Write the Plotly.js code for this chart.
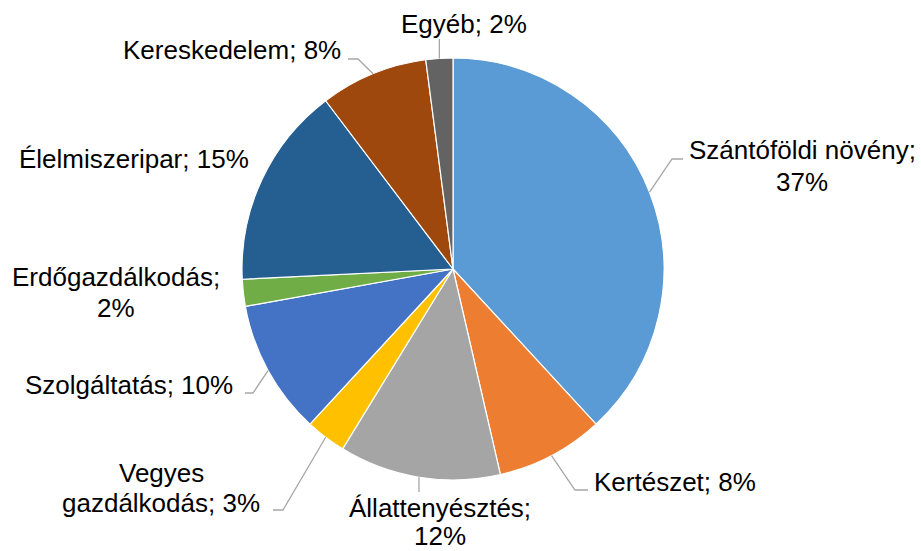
<!DOCTYPE html>
<html>
<head>
<meta charset="utf-8">
<script src="https://cdn.plot.ly/plotly-3.0.1.min.js"></script>
<style>html,body{margin:0;padding:0;background:#fff;}#chart{width:921px;height:551px;}</style>
</head>
<body>
<div id="chart"></div>
<script>
// ---- data ----
const categories = ["Szántóföldi növény", "Kertészet", "Állattenyésztés", "Vegyes gazdálkodás", "Szolgáltatás", "Erdőgazdálkodás", "Élelmiszeripar", "Kereskedelem", "Egyéb"];
const values = [37, 8, 12, 3, 10, 2, 15, 8, 2];
const colors = ["#5B9BD5", "#ED7D31", "#A5A5A5", "#FFC000", "#4472C4", "#70AD47", "#255E91", "#9E480E", "#636363"];

// ---- layout (pixels) ----
const W = 921, H = 551;
const cx = 453, cy = 269, R = 211;
// label placement: center x, middle y of each line, wrap mode
const labelPos = [
  {x: 802, ys: [150, 182], wrap: "value"},
  {x: 675, ys: [482], wrap: "none"},
  {x: 440, ys: [508, 536], wrap: "value"},
  {x: 161, ys: [473, 503], wrap: "first"},
  {x: 129, ys: [385], wrap: "none"},
  {x: 116, ys: [277, 308], wrap: "value"},
  {x: 134, ys: [159], wrap: "none"},
  {x: 232, ys: [50], wrap: "none"},
  {x: 464, ys: [24], wrap: "none"}
];
// leader line elbows (pixels), null = no leader
const leaders = [
  [[672,159],[683,159]],
  [[575,490],[588,490]],
  [["px",492]],
  [[283,510],[273,510]],
  [[253,393],[245,393]],
  null,
  null,
  [[358,59],[348,59]],
  [["px",39]]
];

const px2x = v => v / W;
const py2y = v => 1 - v / H;

const total = values.reduce((a, b) => a + b, 0);
let cum = 0;
const annotations = [];
const shapes = [];
values.forEach((v, i) => {
  const mid = (cum + v / 2) / total * 2 * Math.PI;
  cum += v;
  const p = [cx + R * Math.sin(mid), cy - R * Math.cos(mid)];
  const lp = labelPos[i];
  let lines;
  const val = v + "%";
  if (lp.wrap === "value") lines = [categories[i] + ";", val];
  else if (lp.wrap === "first") {
    const k = categories[i].indexOf(" ");
    lines = [categories[i].slice(0, k), categories[i].slice(k + 1) + "; " + val];
  } else lines = [categories[i] + "; " + val];
  lines.forEach((t, j) => {
    annotations.push({
      xref: "paper", yref: "paper", x: px2x(lp.x), y: py2y(lp.ys[j]),
      xanchor: "center", yanchor: "middle", align: "center",
      text: t, showarrow: false,
      font: {family: "Liberation Sans, Arial, sans-serif", size: 26, color: "#000000"}
    });
  });
  if (leaders[i]) {
    let path = "M" + px2x(p[0]) + "," + py2y(p[1]);
    leaders[i].forEach(pt => {
      const xx = pt[0] === "px" ? p[0] : pt[0];
      path += " L" + px2x(xx) + "," + py2y(pt[1]);
    });
    shapes.push({type: "path", xref: "paper", yref: "paper", path: path,
      line: {color: "#A6A6A6", width: 1.3}});
  }
});

const trace = {
  type: "pie",
  labels: categories,
  values: values,
  sort: false,
  direction: "clockwise",
  rotation: 0,
  textinfo: "none",
  hoverinfo: "skip",
  marker: {colors: colors, line: {color: "#FFFFFF", width: 1.2}},
  domain: {x: [(cx - R) / W, (cx + R) / W], y: [1 - (cy + R) / H, 1 - (cy - R) / H]}
};

const layout = {
  width: W, height: H,
  margin: {l: 0, r: 0, t: 0, b: 0},
  showlegend: false,
  paper_bgcolor: "#FFFFFF",
  annotations: annotations,
  shapes: shapes
};

Plotly.newPlot("chart", [trace], layout, {staticPlot: true, displayModeBar: false});
</script>
</body>
</html>
